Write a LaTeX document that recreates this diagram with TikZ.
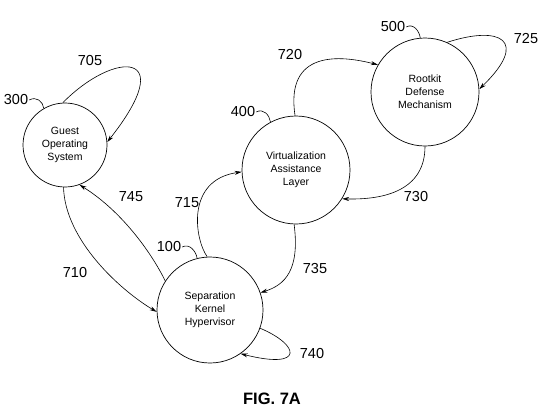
\documentclass[tikz,border=0pt]{standalone}
\usepackage{fontspec}
\setmainfont{Liberation Sans}
\usetikzlibrary{arrows.meta}
\begin{document}
\begin{tikzpicture}[x=1pt,y=-1pt,
  state/.style={draw,circle,line width=0.7pt,inner sep=0pt,align=center,font=\fontsize{10.5}{13}\selectfont},
  conn/.style={line width=0.6pt,-{Stealth[length=7pt,width=4pt]}},
  lead/.style={line width=0.6pt},
  num/.style={font=\fontsize{14.5}{15}\selectfont,inner sep=0pt}]
\useasboundingbox (0,0) rectangle (546,413);
\node[state,minimum size=84pt] (g) at (65,145) {Guest\\Operating\\System};
\node[state,minimum size=108pt] (v) at (296,170) {Virtualization\\Assistance\\Layer};
\node[state,minimum size=108pt] (r) at (425,92) {Rootkit\\Defense\\Mechanism};
\node[state,minimum size=106pt] (s) at (210,310) {Separation\\Kernel\\Hypervisor};
% reference numbers
\node[num] (n300) at (16,100) {300};
\node[num] (n400) at (243,112) {400};
\node[num] (n500) at (393,27) {500};
\node[num] (n100) at (169,247) {100};
\draw[lead] ([xshift=1pt]n300.east) .. controls +(7,-4) and +(-1,-7) .. (g.120);
\draw[lead] ([xshift=1pt]n400.east) .. controls +(7,-4) and +(-1,-7) .. (v.118);
\draw[lead] ([xshift=1pt]n500.east) .. controls +(7,-4) and +(-1,-7) .. (r.95);
\draw[lead] ([xshift=1pt]n100.east) .. controls +(7,-4) and +(-1,-7) .. (s.104);
% transitions
\node[num] (l705) at (90,61) {705};
\node[num] (l710) at (75,273) {710};
\node[num] (l715) at (187,203) {715};
\node[num] (l720) at (290,55) {720};
\node[num] (l725) at (526,39) {725};
\node[num] (l730) at (416,197) {730};
\node[num] (l735) at (315,269) {735};
\node[num] (l740) at (312,354) {740};
\node[num] (l745) at (131,197) {745};
\draw[conn] (g.93) .. controls (115,50) and (180,50) .. (g.4);
\draw[conn] (g.268) .. controls (65,240) and (120,290) .. (s.182);
\draw[conn] (s.147) .. controls (150,250) and (120,210) .. (g.290);
\draw[conn] (s.93) .. controls (195,240) and (185,180) .. (v.182);
\draw[conn] (v.91) .. controls (285,50) and (340,55) .. (r.150);
\draw[conn] (r.66) .. controls (500,25) and (530,40) .. (r.3);
\draw[conn] (r.270) .. controls (425,190) and (385,200) .. (v.328);
\draw[conn] (v.268) .. controls (300,270) and (285,285) .. (s.19);
\draw[conn] (s.340) .. controls (300,345) and (305,370) .. (s.305);
% caption
\node[font=\bfseries\fontsize{16.5}{18}\selectfont,inner sep=0pt] (cap) at (272,399) {FIG. 7A};
\end{tikzpicture}
\end{document}
